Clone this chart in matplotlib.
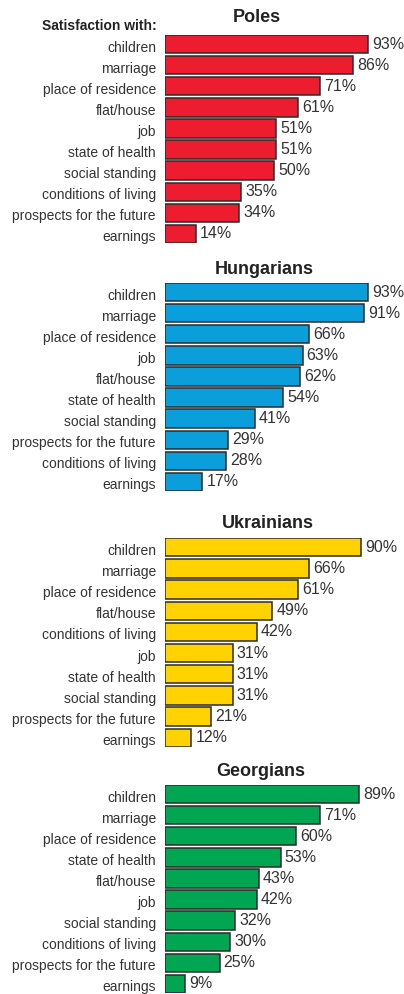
import matplotlib
matplotlib.use("Agg")
import matplotlib.pyplot as plt
from matplotlib.transforms import ScaledTranslation

plt.rcParams["font.family"] = ["Liberation Sans", "DejaVu Sans"]

poles_labels = ["children", "marriage", "place of residence", "flat/house", "job",
                "state of health", "social standing", "conditions of living",
                "prospects for the future", "earnings"]
poles_values = [93, 86, 71, 61, 51, 51, 50, 35, 34, 14]

hungarians_labels = ["children", "marriage", "place of residence", "job", "flat/house",
                     "state of health", "social standing", "prospects for the future",
                     "conditions of living", "earnings"]
hungarians_values = [93, 91, 66, 63, 62, 54, 41, 29, 28, 17]

ukrainians_labels = ["children", "marriage", "place of residence", "flat/house",
                     "conditions of living", "job", "state of health", "social standing",
                     "prospects for the future", "earnings"]
ukrainians_values = [90, 66, 61, 49, 42, 31, 31, 31, 21, 12]

georgians_labels = ["children", "marriage", "place of residence", "state of health",
                    "flat/house", "job", "social standing", "conditions of living",
                    "prospects for the future", "earnings"]
georgians_values = [89, 71, 60, 53, 43, 42, 32, 30, 25, 9]

groups = ["Poles", "Hungarians", "Ukrainians", "Georgians"]

W, H = 404, 994
fig = plt.figure(figsize=(W / 100, H / 100), dpi=100, facecolor="white")

text_col = "#333333"
panels = [
    # title, labels, values, colour, top px, bottom px, title y px, title x px
    ("Poles", poles_labels, poles_values, "#ED1C2E", 35, 243, 17, 257),
    ("Hungarians", hungarians_labels, hungarians_values, "#0A9FDA", 283, 491, 270, 264),
    ("Ukrainians", ukrainians_labels, ukrainians_values, "#FFD200", 538, 747, 523, 268),
    ("Georgians", georgians_labels, georgians_values, "#00A651", 785, 993, 772, 261),
]

left_px, right_px = 165, 383.3
bar_h = 0.87

for title, labels, values, color, top, bottom, ty, tx in panels:
    ax = fig.add_axes([left_px / W, 1 - bottom / H, (right_px - left_px) / W,
                       (bottom - top) / H])
    ypos = list(range(len(values)))
    bars = ax.barh(ypos, values, height=bar_h, color=color,
                   edgecolor="#2b2b2b", linewidth=1.1)
    ax.set_xlim(0, 100)
    ax.set_ylim(len(values) - 1 + bar_h / 2, -bar_h / 2)
    ax.set_yticks(ypos)
    ax.set_yticklabels(labels, fontsize=10, color=text_col)
    ax.tick_params(axis="y", length=0, pad=6.5)
    ax.set_xticks([])
    for s in ax.spines.values():
        s.set_visible(False)
    for lab in ax.get_yticklabels():
        lab.set_transform(lab.get_transform()
                          + ScaledTranslation(0, -1.5 / 72, fig.dpi_scale_trans))
    for v, b in zip(values, bars):
        ax.annotate("{}%".format(v), (b.get_width(), b.get_y() + b.get_height() / 2),
                    xytext=(3, 0), textcoords="offset points", ha="left",
                    va="center", fontsize=11.5, color=text_col, clip_on=False)
    fig.text(tx / W, 1 - ty / H, title, ha="center", va="center",
             fontsize=13, fontweight="bold", color="#222222")

fig.text(156.5 / W, 1 - 26.5 / H, "Satisfaction with:", ha="right", va="center",
         fontsize=10, fontweight="bold", color="#222222")

fig.savefig("out.png", dpi=100, facecolor="white")
